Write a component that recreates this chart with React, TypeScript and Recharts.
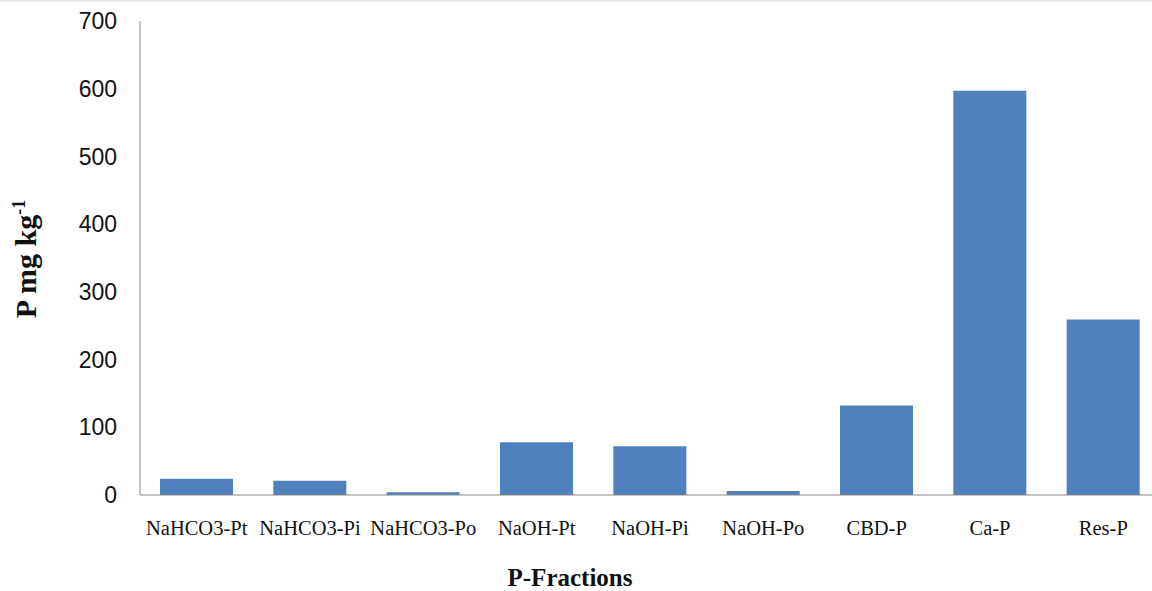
import { BarChart, Bar, XAxis, YAxis } from 'recharts';

// P fractions and their content (mg/kg)
const fractions = [
  'NaHCO3-Pt',
  'NaHCO3-Pi',
  'NaHCO3-Po',
  'NaOH-Pt',
  'NaOH-Pi',
  'NaOH-Po',
  'CBD-P',
  'Ca-P',
  'Res-P',
];
const pContent = [24, 21, 4, 78, 72, 6, 132, 597, 259];
const yTicks = [0, 100, 200, 300, 400, 500, 600, 700];

const data = fractions.map((name, i) => ({ name, value: pContent[i] }));

const axisColor = '#878787';
const barColor = '#4F81BD';

export default function App() {
  return (
    <div
      style={{
        position: 'fixed',
        top: 0,
        left: 0,
        width: 1152,
        height: 591,
        overflow: 'hidden',
        background: '#fff',
      }}
    >
      <div style={{ position: 'absolute', top: 0, left: 0, width: 1152, height: 2, background: '#e6e6e6' }} />
      <BarChart
        width={1170}
        height={591}
        data={data}
        margin={{ top: 21, right: 10, left: 0, bottom: 0 }}
      >
        <XAxis
          dataKey="name"
          interval={0}
          height={96}
          stroke={axisColor}
          tickLine={false}
          tickSize={0}
          tickMargin={25}
          tick={{ fill: '#111', fontSize: 20.5, fontFamily: '"Liberation Serif", "Times New Roman", serif' }}
        />
        <YAxis
          width={140}
          domain={[0, 700]}
          ticks={yTicks}
          stroke={axisColor}
          tickLine={false}
          tickSize={0}
          tickMargin={23}
          tick={{ fill: '#111', fontSize: 23, fontFamily: '"Liberation Sans", Arial, sans-serif' }}
        />
        <Bar dataKey="value" fill={barColor} barSize={73} isAnimationActive={false} />
      </BarChart>

      {/* axis titles */}
      <div
        style={{
          position: 'absolute',
          left: 26,
          top: 259,
          transform: 'translate(-50%, -50%) rotate(-90deg)',
          whiteSpace: 'nowrap',
          fontFamily: '"Liberation Serif", "Times New Roman", serif',
          fontWeight: 'bold',
          fontSize: 30,
          color: '#111',
        }}
      >
        P mg kg<sup style={{ fontSize: 18 }}>-1</sup>
      </div>
      <div
        style={{
          position: 'absolute',
          left: 570,
          top: 578,
          transform: 'translate(-50%, -50%)',
          whiteSpace: 'nowrap',
          fontFamily: '"Liberation Serif", "Times New Roman", serif',
          fontWeight: 'bold',
          fontSize: 25,
          color: '#111',
        }}
      >
        P-Fractions
      </div>
    </div>
  );
}
